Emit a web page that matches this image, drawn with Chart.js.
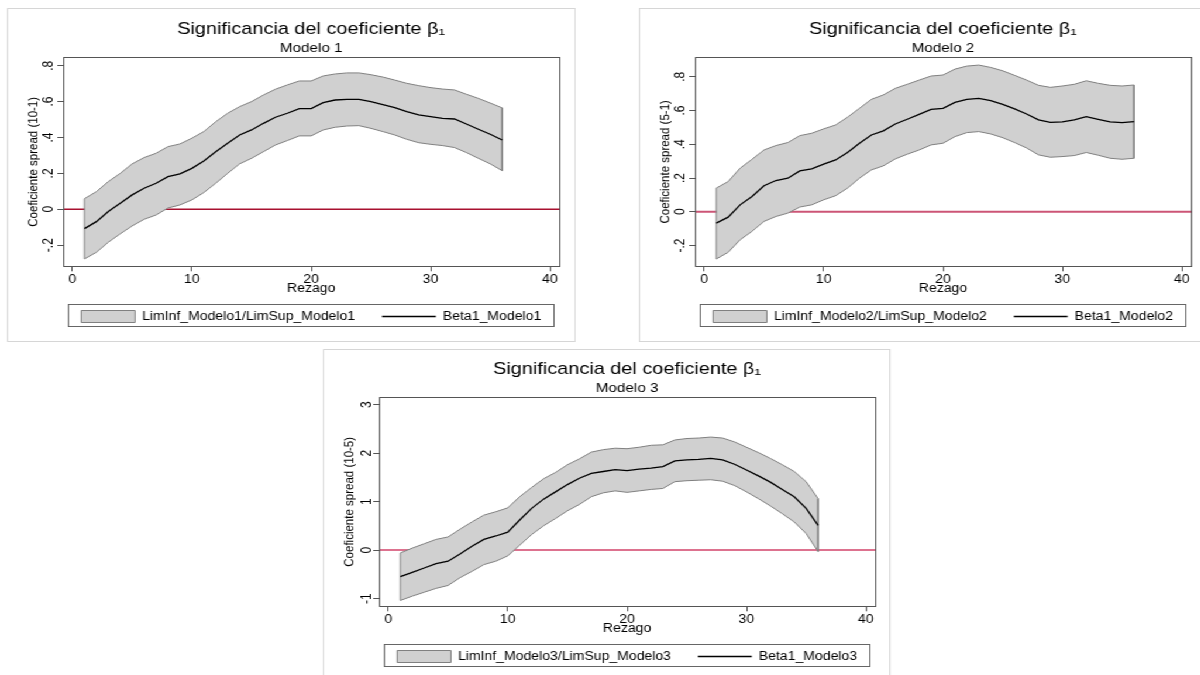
<!DOCTYPE html>
<html>
<head>
<meta charset="utf-8">
<script src="https://cdn.jsdelivr.net/npm/chart.js@4.4.1/dist/chart.umd.min.js"></script>
<style>
html, body { margin: 0; padding: 0; background: #fff; overflow: hidden; width: 1200px; height: 675px; }
/* the source figure is stretched horizontally, so the whole page is too */
#page { position: absolute; left: 0; top: 0; width: 1026px; height: 675px; transform: scaleX(1.17); transform-origin: 0 0; }
.frame { position: absolute; border: 1px solid #d6d6d6; box-sizing: border-box; }
canvas { position: absolute; }
</style>
</head>
<body>
<div id="page">
  <div class="frame" style="left:6px;top:8px;width:485.5px;height:334px"></div>
  <div class="frame" style="left:546.2px;top:8px;width:560px;height:334px"></div>
  <div class="frame" style="left:276.1px;top:349.3px;width:484.6px;height:400px"></div>
  <canvas id="chart-1" width="520" height="333" style="left:6px;top:8px"></canvas>
  <canvas id="chart-2" width="520" height="333" style="left:546.2px;top:8px"></canvas>
  <canvas id="chart-3" width="520" height="333" style="left:276.1px;top:348.4px"></canvas>
</div>
<script>
const FONT = "'Liberation Sans', Arial, sans-serif";

const lags = [1, 2, 3, 4, 5, 6, 7, 8, 9, 10, 11, 12, 13, 14, 15, 16, 17, 18,
    19, 20, 21, 22, 23, 24, 25, 26, 27, 28, 29, 30, 31, 32, 33, 34, 35, 36];
const xTicks = [0, 10, 20, 30, 40];

// Modelo 1
const beta1 = [-0.108, -0.069, -0.013, 0.033, 0.080, 0.117, 0.145, 0.182, 0.197, 0.228, 0.269, 0.321,
    0.368, 0.414, 0.442, 0.479, 0.513, 0.535, 0.561, 0.561, 0.594, 0.609, 0.613, 0.613,
    0.600, 0.583, 0.566, 0.544, 0.526, 0.516, 0.507, 0.503, 0.475, 0.446, 0.418, 0.386];
const upper1 = [0.059, 0.098, 0.154, 0.200, 0.253, 0.288, 0.312, 0.349, 0.364, 0.396, 0.433, 0.488,
    0.535, 0.572, 0.600, 0.637, 0.669, 0.693, 0.715, 0.715, 0.743, 0.754, 0.760, 0.760,
    0.750, 0.737, 0.720, 0.702, 0.689, 0.678, 0.670, 0.665, 0.641, 0.618, 0.592, 0.565];
const lower1 = [-0.277, -0.240, -0.184, -0.137, -0.093, -0.056, -0.032, 0.007, 0.024, 0.052, 0.093, 0.145,
    0.200, 0.253, 0.284, 0.321, 0.358, 0.383, 0.409, 0.409, 0.442, 0.457, 0.464, 0.466,
    0.451, 0.433, 0.414, 0.390, 0.371, 0.362, 0.355, 0.344, 0.316, 0.284, 0.253, 0.215];
const yTicks1 = [-0.2, 0, 0.2, 0.4, 0.6, 0.8];

// Modelo 2
const beta2 = [-0.067, -0.032, 0.041, 0.091, 0.154, 0.185, 0.199, 0.242, 0.254, 0.282, 0.307, 0.351,
    0.406, 0.455, 0.479, 0.520, 0.548, 0.577, 0.607, 0.613, 0.648, 0.666, 0.672, 0.658,
    0.636, 0.609, 0.579, 0.544, 0.530, 0.532, 0.544, 0.564, 0.548, 0.532, 0.528, 0.534];
const upper2 = [0.140, 0.179, 0.258, 0.311, 0.366, 0.392, 0.410, 0.451, 0.465, 0.491, 0.514, 0.560,
    0.613, 0.666, 0.692, 0.731, 0.755, 0.780, 0.804, 0.810, 0.845, 0.863, 0.869, 0.855,
    0.835, 0.808, 0.780, 0.749, 0.737, 0.745, 0.755, 0.776, 0.761, 0.749, 0.745, 0.751];
const lower2 = [-0.280, -0.240, -0.166, -0.116, -0.057, -0.028, -0.008, 0.028, 0.041, 0.071, 0.095, 0.140,
    0.199, 0.248, 0.272, 0.313, 0.341, 0.366, 0.396, 0.406, 0.445, 0.469, 0.475, 0.461,
    0.439, 0.410, 0.378, 0.337, 0.323, 0.327, 0.333, 0.351, 0.335, 0.317, 0.311, 0.317];
const yTicks2 = [-0.2, 0, 0.2, 0.4, 0.6, 0.8];

// Modelo 3
const beta3 = [-0.55, -0.46, -0.37, -0.28, -0.23, -0.08, 0.08, 0.22, 0.29, 0.37, 0.62, 0.86,
    1.05, 1.20, 1.35, 1.48, 1.58, 1.62, 1.66, 1.64, 1.67, 1.69, 1.72, 1.84,
    1.86, 1.87, 1.89, 1.86, 1.77, 1.65, 1.53, 1.40, 1.25, 1.10, 0.86, 0.51];
const upper3 = [-0.06, 0.04, 0.13, 0.22, 0.27, 0.43, 0.58, 0.72, 0.79, 0.87, 1.10, 1.29,
    1.47, 1.60, 1.76, 1.88, 2.02, 2.07, 2.10, 2.09, 2.12, 2.16, 2.17, 2.27,
    2.30, 2.31, 2.33, 2.31, 2.23, 2.12, 2.01, 1.89, 1.76, 1.62, 1.41, 1.06];
const lower3 = [-1.04, -0.95, -0.87, -0.79, -0.73, -0.57, -0.44, -0.30, -0.23, -0.12, 0.10, 0.32,
    0.50, 0.65, 0.81, 0.94, 1.10, 1.18, 1.22, 1.19, 1.22, 1.25, 1.27, 1.41,
    1.43, 1.44, 1.45, 1.42, 1.33, 1.20, 1.06, 0.91, 0.75, 0.58, 0.34, -0.03];
const yTicks3 = [-1, 0, 1, 2, 3];

// red reference line at y = 0, under the band
const zeroLine = {
    id: "zeroLine",
    beforeDatasetsDraw(chart, args, opts) {
        const { ctx, chartArea: a, scales: { y } } = chart;
        const py = y.getPixelForValue(0);
        ctx.save();
        ctx.strokeStyle = opts.color;
        ctx.lineWidth = opts.width;
        ctx.beginPath();
        ctx.moveTo(a.left, py);
        ctx.lineTo(a.right, py);
        ctx.stroke();
        ctx.restore();
    },
};

// plot region outline + box around the legend
const boxes = {
    id: "boxes",
    afterDraw(chart) {
        const { ctx, chartArea: a, legend } = chart;
        ctx.save();
        ctx.strokeStyle = "#555";
        ctx.lineWidth = 1;
        ctx.strokeRect(Math.round(a.left) + 0.5, Math.round(a.top) + 0.5,
            Math.round(a.right - a.left), Math.round(a.bottom - a.top));
        ctx.strokeStyle = "#666";
        ctx.strokeRect(Math.round(a.left + 4) + 0.5, Math.round(legend.top + 16) + 0.5,
            Math.round(a.right - a.left - 9), 22);
        ctx.restore();
    },
};

const stataLabel = (v) => (v === 0 ? "0" : String(v).replace("0.", "."));

function drawModel(id, n, beta, lower, upper, yTicks, yMin, yMax, yTitle, zeroColor, zeroWidth) {
    // closed outline: upper bound forward, lower bound back
    const band = upper.map((v, i) => ({ x: lags[i], y: v }))
        .concat(lower.map((v, i) => ({ x: lags[i], y: v })).reverse());
    band.push(band[0]);

    new Chart(document.getElementById(id), {
        type: "line",
        data: {
            datasets: [
                {
                    label: `LimInf_Modelo${n}/LimSup_Modelo${n}`,
                    data: band,
                    fill: "shape",
                    backgroundColor: "#d0d0d0",
                    borderColor: "#808080",
                    borderWidth: 1,
                    pointRadius: 0,
                    pointStyle: "rect",
                    order: 1,
                },
                {
                    label: `Beta1_Modelo${n}`,
                    data: beta.map((v, i) => ({ x: lags[i], y: v })),
                    fill: false,
                    borderColor: "#000",
                    borderWidth: 1.3,
                    pointRadius: 0,
                    pointStyle: "line",
                    order: 0,
                },
            ],
        },
        options: {
            responsive: false,
            animation: false,
            devicePixelRatio: 1,
            layout: { padding: { left: 0, right: 0, top: 0, bottom: 8.5 } },
            plugins: {
                title: {
                    display: true,
                    text: "Significancia del coeficiente β₁",
                    color: "#000",
                    font: { family: FONT, size: 17, weight: "normal", lineHeight: 1 },
                    padding: { top: 12.6, bottom: 0 },
                },
                subtitle: {
                    display: true,
                    text: `Modelo ${n}`,
                    color: "#000",
                    font: { family: FONT, size: 13, lineHeight: 1 },
                    padding: { top: 4.1, bottom: 2.6 },
                },
                legend: {
                    position: "bottom",
                    labels: {
                        usePointStyle: true,
                        pointStyleWidth: 46,
                        boxHeight: 12,
                        padding: 23,
                        color: "#000",
                        font: { family: FONT, size: 12 },
                        sort: (a, b) => a.datasetIndex - b.datasetIndex,
                    },
                },
                tooltip: { enabled: false },
                zeroLine: { color: zeroColor, width: zeroWidth },
            },
            scales: {
                x: {
                    type: "linear",
                    min: -0.78,
                    max: 40.78,
                    afterBuildTicks: (s) => { s.ticks = xTicks.map((v) => ({ value: v })); },
                    afterFit: (s) => { s.height = 21.2; },
                    ticks: { color: "#000", font: { family: FONT, size: 12 }, padding: 1, maxRotation: 0, autoSkip: false },
                    grid: { drawOnChartArea: false, tickLength: 5, color: "#555" },
                    border: { color: "#555" },
                    title: {
                        display: true,
                        text: "Rezago",
                        color: "#000",
                        font: { family: FONT, size: 12, lineHeight: 1 },
                        padding: { top: 0, bottom: -7.6 },
                    },
                },
                y: {
                    type: "linear",
                    min: yMin,
                    max: yMax,
                    afterBuildTicks: (s) => { s.ticks = yTicks.map((v) => ({ value: v })); },
                    afterFit: (s) => { s.width = 48; },
                    ticks: {
                        color: "#000",
                        font: { family: FONT, size: 12 },
                        minRotation: 90,
                        maxRotation: 90,
                        crossAlign: "center",
                        padding: 0,
                        autoSkip: false,
                        callback: stataLabel,
                    },
                    grid: { drawOnChartArea: false, tickLength: 5, color: "#555" },
                    border: { color: "#555" },
                    title: {
                        display: true,
                        text: yTitle,
                        color: "#000",
                        font: { family: FONT, size: 11.5, lineHeight: 1 },
                        padding: { top: 17, bottom: 0 },
                    },
                },
                // empty axis on the right so the plot, title and legend share one centre
                yRight: {
                    type: "linear",
                    position: "right",
                    afterFit: (s) => { s.width = 48; },
                    ticks: { display: false },
                    grid: { display: false },
                    border: { display: false },
                },
            },
        },
        plugins: [zeroLine, boxes],
    });
}

drawModel("chart-1", 1, beta1, lower1, upper1, yTicks1, -0.318, 0.847, "Coeficiente spread (10-1)", "#a8102f", 1.4);
drawModel("chart-2", 2, beta2, lower2, upper2, yTicks2, -0.323, 0.915, "Coeficiente spread (5-1)", "#cc5576", 2);
drawModel("chart-3", 3, beta3, lower3, upper3, yTicks3, -1.16, 3.15, "Coeficiente spread (10-5)", "#d2436a", 1.6);
</script>
</body>
</html>
